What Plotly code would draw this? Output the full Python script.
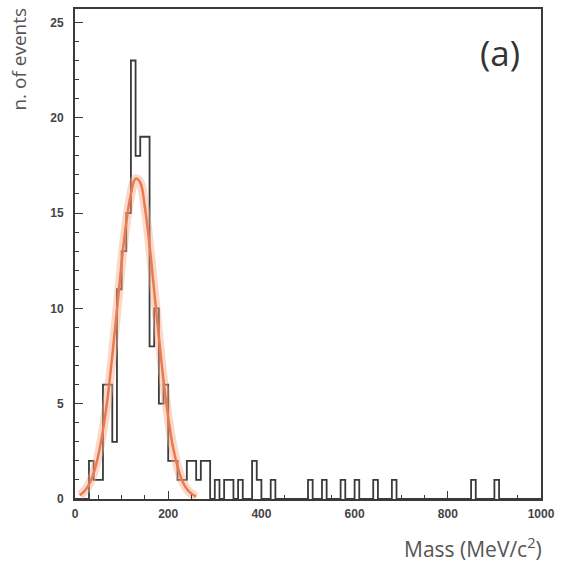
import numpy as np
import plotly.graph_objects as go

# ---- data ----
bin_width = 10  # MeV/c^2
bin_low = [30, 40, 50, 60, 70, 80, 90, 100, 110, 120, 130, 140, 150, 160, 170, 180, 190,
           200, 210, 220, 230, 240, 250, 260, 270, 280, 300, 320, 330, 350, 380, 390, 420,
           500, 530, 570, 600, 640, 680, 850, 900]
n_events = [2, 1, 1, 6, 6, 3, 11, 13, 15, 23, 18, 19, 19, 8, 10, 5, 6,
            2, 2, 1, 1, 2, 2, 1, 2, 2, 1, 1, 1, 1, 2, 1, 1,
            1, 1, 1, 1, 1, 1, 1, 1]

fit_mass = [10, 20, 30, 40, 50, 60, 70, 80, 90, 100, 110, 120, 130, 140, 150, 160, 170,
            180, 190, 200, 210, 220, 230, 240, 250, 260]
fit_value = [0.2, 0.4, 0.76, 1.35, 2.3, 3.6, 5.3, 7.5, 9.9, 12.4, 14.5, 16.0, 16.8, 16.6,
             15.3, 13.3, 10.9, 8.5, 6.2, 4.3, 2.75, 1.7, 0.96, 0.52, 0.27, 0.13]

x_ticks = [0, 200, 400, 600, 800, 1000]
y_ticks = [0, 5, 10, 15, 20, 25]

# ---- build full histogram ----
edges = np.arange(0, 1000 + bin_width, bin_width)
counts = np.zeros(len(edges) - 1)
for lo, n in zip(bin_low, n_events):
    counts[int(lo // bin_width)] = n
step_x = list(edges)
step_y = list(counts) + [counts[-1]]

fig = go.Figure()
fig.add_trace(go.Scatter(x=step_x, y=step_y, mode="lines", line_shape="hv",
                         line=dict(color="#3a3a3a", width=1.8), hoverinfo="skip",
                         showlegend=False))
fig.add_trace(go.Scatter(x=fit_mass, y=fit_value, mode="lines", line_shape="spline",
                         line=dict(color="rgba(245,170,140,0.45)", width=9),
                         hoverinfo="skip", showlegend=False))
fig.add_trace(go.Scatter(x=fit_mass, y=fit_value, mode="lines", line_shape="spline",
                         line=dict(color="#ea7a50", width=2.5),
                         hoverinfo="skip", showlegend=False))

axis_common = dict(showline=True, linecolor="#3a3a3a", linewidth=1.8, mirror=True,
                   ticks="inside", tickcolor="#3a3a3a", tickwidth=1.2,
                   showgrid=False, zeroline=False,
                   tickfont=dict(family="Liberation Sans", size=12, color="#444444",
                                 weight="bold"))

fig.update_xaxes(range=[0, 1000], tickvals=x_ticks, ticktext=[str(v) for v in x_ticks],
                 ticklen=8, minor=dict(dtick=50, ticklen=4, ticks="inside",
                                       tickcolor="#3a3a3a", tickwidth=1),
                 ticklabelstandoff=3, **axis_common)
fig.update_yaxes(range=[0, 25.7], tickvals=y_ticks, ticktext=[str(v) for v in y_ticks],
                 ticklen=8, minor=dict(dtick=1, ticklen=4, ticks="inside",
                                       tickcolor="#3a3a3a", tickwidth=1),
                 ticklabelstandoff=7, **axis_common)

PW, PH, L, T = 466.5, 492.0, 75.0, 7.0


def px_to_paper(px, py):
    return (px - L) / PW, (T + PH - py) / PH


ax, ay = px_to_paper(500, 51)
fig.add_annotation(text="(a)", xref="paper", yref="paper", x=ax, y=ay,
                   showarrow=False, xanchor="center", yanchor="middle",
                   font=dict(family="Open Sans", size=35, color="#333333"))
mx, my = px_to_paper(545, 548)
fig.add_annotation(text="Mass (MeV/c<sup>2</sup>)", xref="paper", yref="paper",
                   x=mx, y=my, showarrow=False, xanchor="right", yanchor="middle",
                   font=dict(family="Open Sans", size=21, color="#555555"))
nx, ny = px_to_paper(18, 4)
fig.add_annotation(text="n. of events", xref="paper", yref="paper",
                   x=nx, y=ny, textangle=-90,
                   showarrow=False, xanchor="center", yanchor="top",
                   font=dict(family="Open Sans", size=19, color="#555555"))

fig.update_layout(width=565, height=563, margin=dict(l=75, r=23.5, t=7, b=64),
                  paper_bgcolor="white", plot_bgcolor="white", showlegend=False)

fig.write_html("out.html", config={"displayModeBar": False},
               post_script="document.body.style.margin='0px';")
